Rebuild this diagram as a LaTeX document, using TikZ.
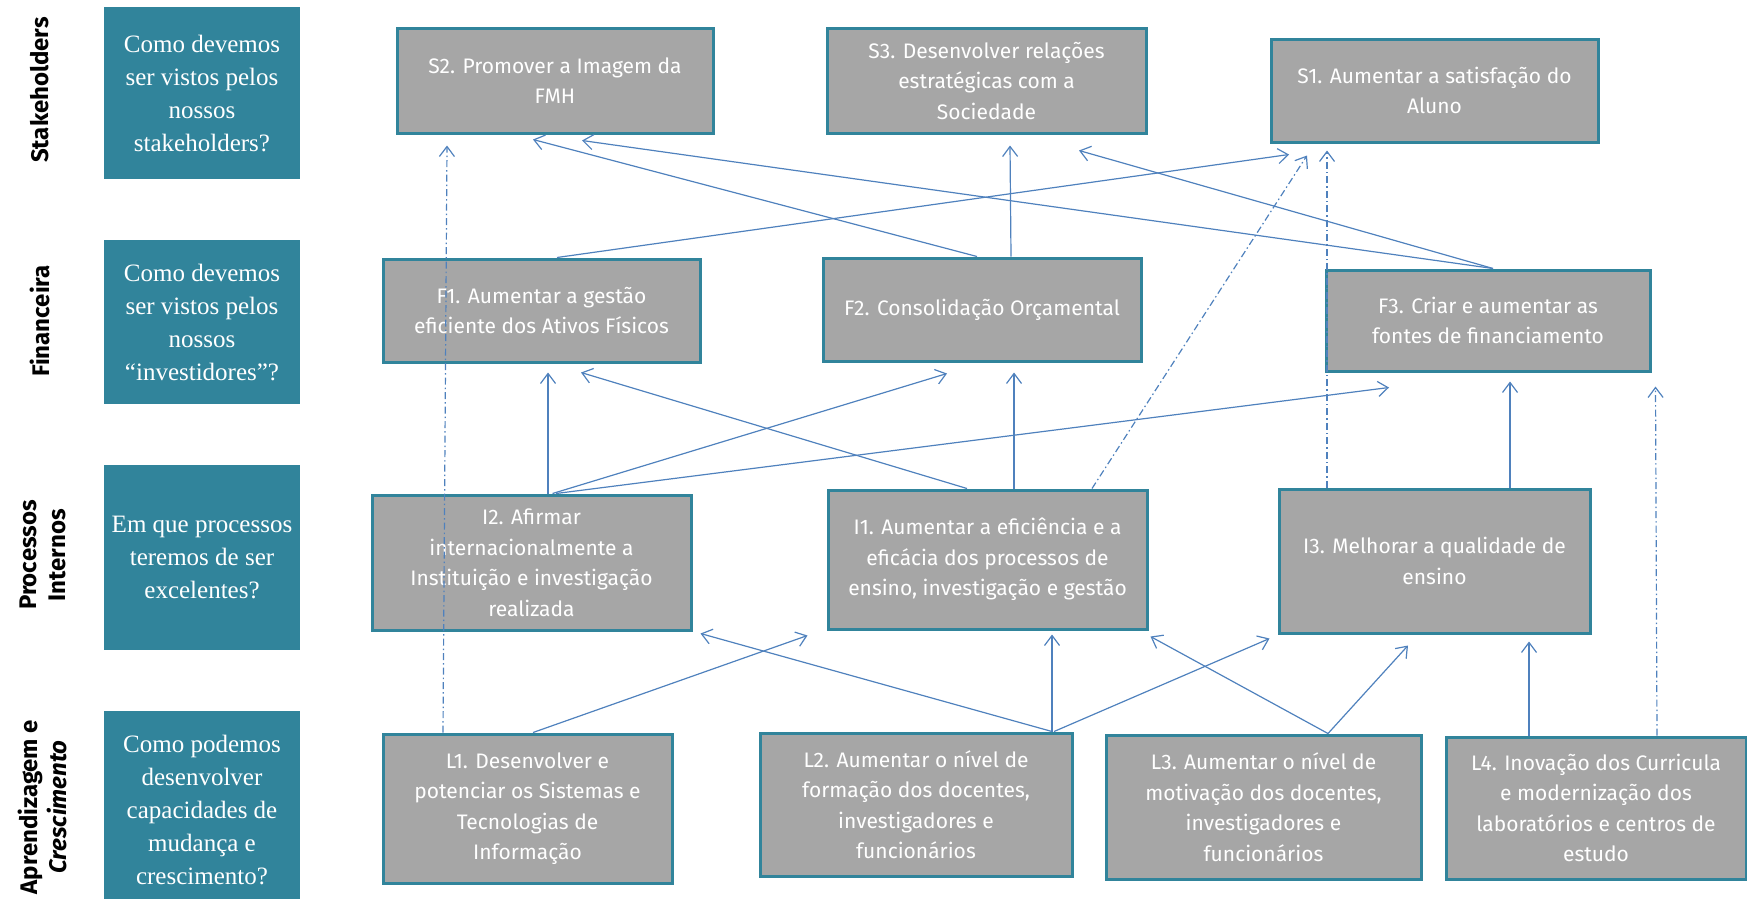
\documentclass[tikz,border=0pt]{standalone}
\usepackage{fontspec}
\setmainfont{Liberation Serif}
\setsansfont{Fira Sans}
\usetikzlibrary{arrows.meta}

\definecolor{tealbox}{HTML}{31849B}
\definecolor{greybox}{HTML}{A6A6A6}
\definecolor{linkblue}{HTML}{4F81BD}

\begin{document}
\begin{tikzpicture}[x=1pt,y=-1pt,
    question/.style={fill=tealbox,text=white,align=center,minimum width=196pt,inner sep=0pt,
        font=\fontsize{25}{33}\selectfont},
    goal/.style={draw=tealbox,line width=3pt,fill=greybox,text=white,align=center,inner sep=0pt,
        font=\sffamily\fontsize{21}{30.5}\selectfont},
    persp/.style={rotate=90,align=center,font=\sffamily\bfseries\fontsize{24}{29}\selectfont},
    link/.style={draw=linkblue,line width=1.2pt,-{Straight Barb[length=10pt,width=15pt]}},
    hint/.style={link,dash pattern=on 7pt off 3pt on 1.5pt off 3pt}]
    \useasboundingbox (0,0) rectangle (1747,898);

    \node[persp] (pStake) at (40,90) {Stakeholders};
    \node[persp] (pFin) at (40,321) {Financeira};
    \node[persp] (pProc) at (42.5,555) {Processos\\Internos};
    \node[persp] (pLearn) at (42.5,807) {Aprendizagem e\\{\itshape Crescimento}};

    \node[question,minimum height=172pt] (qStake) at (202,93) {Como devemos\\ser vistos pelos\\nossos\\stakeholders?};
    \node[question,minimum height=164pt] (qFin) at (202,322) {Como devemos\\ser vistos pelos\\nossos\\“investidores”?};
    \node[question,minimum height=185pt] (qProc) at (202,557.5) {Em que processos\\teremos de ser\\excelentes?};
    \node[question,minimum height=198pt] (qLearn) at (202,810) {Como podemos\\desenvolver\\capacidades de\\mudança e\\crescimento?};

    \node[goal,minimum width=316pt,minimum height=105pt] (S2) at (555,80.5) {S2. Promover a Imagem da\\FMH};
    \node[goal,minimum width=319pt,minimum height=105pt] (S3) at (986.5,80.5) {S3. Desenvolver relações\\estratégicas com a\\Sociedade};
    \node[goal,minimum width=327pt,minimum height=103pt] (S1) at (1434.5,90.5) {S1. Aumentar a satisfação do\\Aluno};
    \node[goal,minimum width=317pt,minimum height=103pt] (F1) at (541.5,310.5) {F1. Aumentar a gestão\\eficiente dos Ativos Físicos};
    \node[goal,minimum width=318pt,minimum height=103pt] (F2) at (982,309.5) {F2. Consolidação Orçamental};
    \node[goal,minimum width=324pt,minimum height=101pt] (F3) at (1488,320.5) {F3. Criar e aumentar as\\fontes de financiamento};
    \node[goal,minimum width=319pt,minimum height=135pt] (I2) at (531.5,562.5) {I2. Afirmar\\internacionalmente a\\Instituição e investigação\\realizada};
    \node[goal,minimum width=319pt,minimum height=139pt] (I1) at (987.5,559.5) {I1. Aumentar a eficiência e a\\eficácia dos processos de\\ensino, investigação e gestão};
    \node[goal,minimum width=311pt,minimum height=144pt] (I3) at (1434.5,561) {I3. Melhorar a qualidade de\\ensino};
    \node[goal,minimum width=289pt,minimum height=149pt] (L1) at (527.5,808.5) {L1. Desenvolver e\\potenciar os Sistemas e\\Tecnologias de\\Informação};
    \node[goal,minimum width=312pt,minimum height=143pt] (L2) at (916,804.5) {L2. Aumentar o nível de\\formação dos docentes,\\investigadores e\\funcionários};
    \node[goal,minimum width=315pt,minimum height=144pt] (L3) at (1263.5,807) {L3. Aumentar o nível de\\motivação dos docentes,\\investigadores e\\funcionários};
    \node[goal,minimum width=300pt,minimum height=142pt] (L4) at (1596,808) {L4. Inovação dos Curricula\\e modernização dos\\laboratórios e centros de\\estudo};

    \draw[hint] ([xshift=-84.5pt]L1.north) -- ([xshift=-108pt,yshift=-11pt]S2.south);
    \draw[link] ([xshift=-5pt]F2.north) -- ([xshift=-22pt,yshift=-5pt]S2.south);
    \draw[link] ([xshift=5pt]F3.north) -- ([xshift=27pt,yshift=-6pt]S2.south);
    \draw[link] ([xshift=15.5pt]F1.north) -- ([xshift=-145.5pt,yshift=-11pt]S1.south);
    \draw[link] ([xshift=29pt]F2.north) -- ([xshift=23.5pt,yshift=-11pt]S3.south);
    \draw[link] ([xshift=5pt]F3.north) -- ([xshift=92.5pt,yshift=-16pt]S3.south);
    \draw[hint] ([xshift=104.5pt]I1.north) -- ([xshift=-127.5pt,yshift=-12pt]S1.south);
    \draw[hint] ([xshift=-107.5pt]I3.north) -- ([xshift=-107.5pt,yshift=-7pt]S1.south);

    \draw[link] ([xshift=16.5pt]I2.north) -- ([xshift=6.5pt,yshift=-9pt]F1.south);
    \draw[link] ([xshift=21pt]I2.north) -- ([xshift=-35pt,yshift=-11pt]F2.south);
    \draw[link] ([xshift=24.5pt]I2.north) -- ([xshift=-99pt,yshift=-15pt]F3.south);
    \draw[link] ([xshift=-20.5pt]I1.north) -- ([xshift=39.5pt,yshift=-9pt]F1.south);
    \draw[link] ([xshift=26.5pt]I1.north) -- ([xshift=32pt,yshift=-10pt]F2.south);
    \draw[link] ([xshift=75.5pt]I3.north) -- ([xshift=22pt,yshift=-9pt]F3.south);
    \draw[hint] ([xshift=61pt]L4.north) -- ([xshift=4pt,yshift=-14pt]F3.south east);

    \draw[link] ([xshift=5.5pt]L1.north) -- ([xshift=-19pt,yshift=-5pt]I1.south west);
    \draw[link] ([xshift=136pt]L2.north) -- ([xshift=8pt,yshift=-2pt]I2.south east);
    \draw[link] ([xshift=136pt]L2.north) -- ([xshift=64.5pt,yshift=-4pt]I1.south);
    \draw[link] ([xshift=138pt]L2.north) -- ([xshift=-8pt,yshift=-4pt]I3.south west);
    \draw[link] ([xshift=64.5pt]L3.north) -- ([xshift=2pt,yshift=-6pt]I1.south east);
    \draw[link] ([xshift=64.5pt]L3.north) -- ([xshift=-26.5pt,yshift=-11pt]I3.south);
    \draw[link] ([xshift=-67pt]L4.north) -- ([xshift=94.5pt,yshift=-7pt]I3.south);
\end{tikzpicture}
\end{document}
